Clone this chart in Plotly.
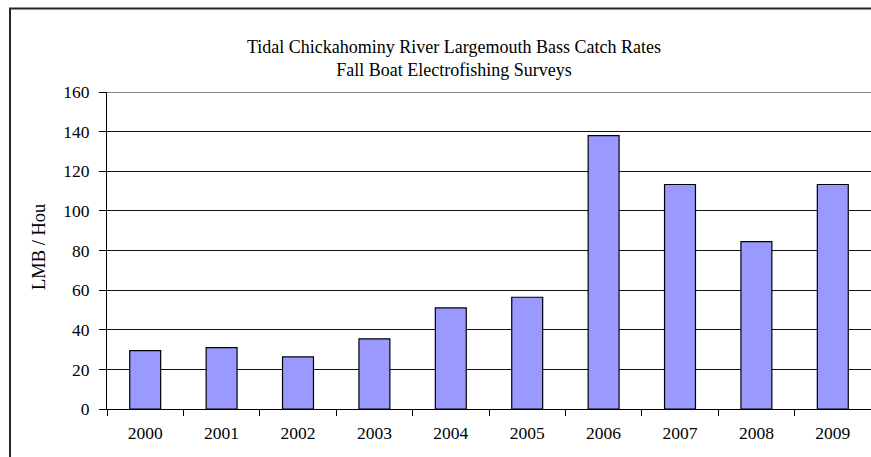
import plotly.graph_objects as go

years = ["2000", "2001", "2002", "2003", "2004", "2005", "2006", "2007", "2008", "2009"]
catch_rates = [29.5, 31.0, 26.3, 35.4, 51.0, 56.4, 138.0, 113.3, 84.5, 113.3]
y_ticks = [0, 20, 40, 60, 80, 100, 120, 140, 160]

title_text = "Tidal Chickahominy River Largemouth Bass Catch Rates<br>Fall Boat Electrofishing Surveys"
y_title = "LMB / Hou"

W, H = 871, 457
L, R, T, B = 107, 0, 92, 48
pw = W - L - R
ph = H - T - B

def px_x(p):
    return (p - L) / pw

def px_y(p):
    return (H - B - p) / ph

font = "Liberation Serif, Times New Roman, serif"

fig = go.Figure(go.Bar(
    x=years,
    y=catch_rates,
    marker=dict(color="#9999FF", line=dict(color="#000000", width=1.2)),
))

fig.update_layout(
    width=W, height=H,
    margin=dict(l=L, r=R, t=T, b=B),
    paper_bgcolor="white",
    plot_bgcolor="white",
    bargap=0.595,
    showlegend=False,
    font=dict(family=font, size=18, color="black"),
    xaxis=dict(
        type="category",
        showline=True, linecolor="black", linewidth=1,
        ticks="outside", tickson="boundaries", ticklen=6, tickcolor="black",
        tickfont=dict(family=font, size=17.5, color="black"),
        ticklabelstandoff=8,
        showgrid=False,
    ),
    yaxis=dict(
        range=[0, 160],
        tickvals=y_ticks,
        showline=True, linecolor="black", linewidth=1,
        ticks="outside", ticklen=7, tickcolor="black",
        tickfont=dict(family=font, size=17.5, color="black"),
        ticklabelstandoff=6,
        showgrid=True, gridcolor="#111111", gridwidth=1,
        zeroline=False,
    ),
    annotations=[
        dict(text=title_text, xref="paper", yref="paper",
             x=px_x(454), y=px_y(58), xanchor="center", yanchor="middle",
             showarrow=False, align="center",
             font=dict(family=font, size=18, color="black")),
        dict(text=y_title, xref="paper", yref="paper",
             x=px_x(39), y=px_y(247), xanchor="center", yanchor="middle",
             showarrow=False, textangle=-90,
             font=dict(family=font, size=18.5, color="black")),
    ],
    shapes=[
        dict(type="rect", xref="paper", yref="paper",
             x0=px_x(10), x1=px_x(W + 50), y0=px_y(H + 50), y1=px_y(8.5),
             line=dict(color="#262626", width=2), fillcolor="rgba(0,0,0,0)",
             layer="below"),
        dict(type="line", xref="paper", yref="y",
             x0=0, x1=1, y0=y_ticks[-1], y1=y_ticks[-1],
             line=dict(color="#111111", width=1), layer="below"),
    ],
)

fig.write_html("out.html", config={"displayModeBar": False},
               post_script="document.body.style.margin='0';")
